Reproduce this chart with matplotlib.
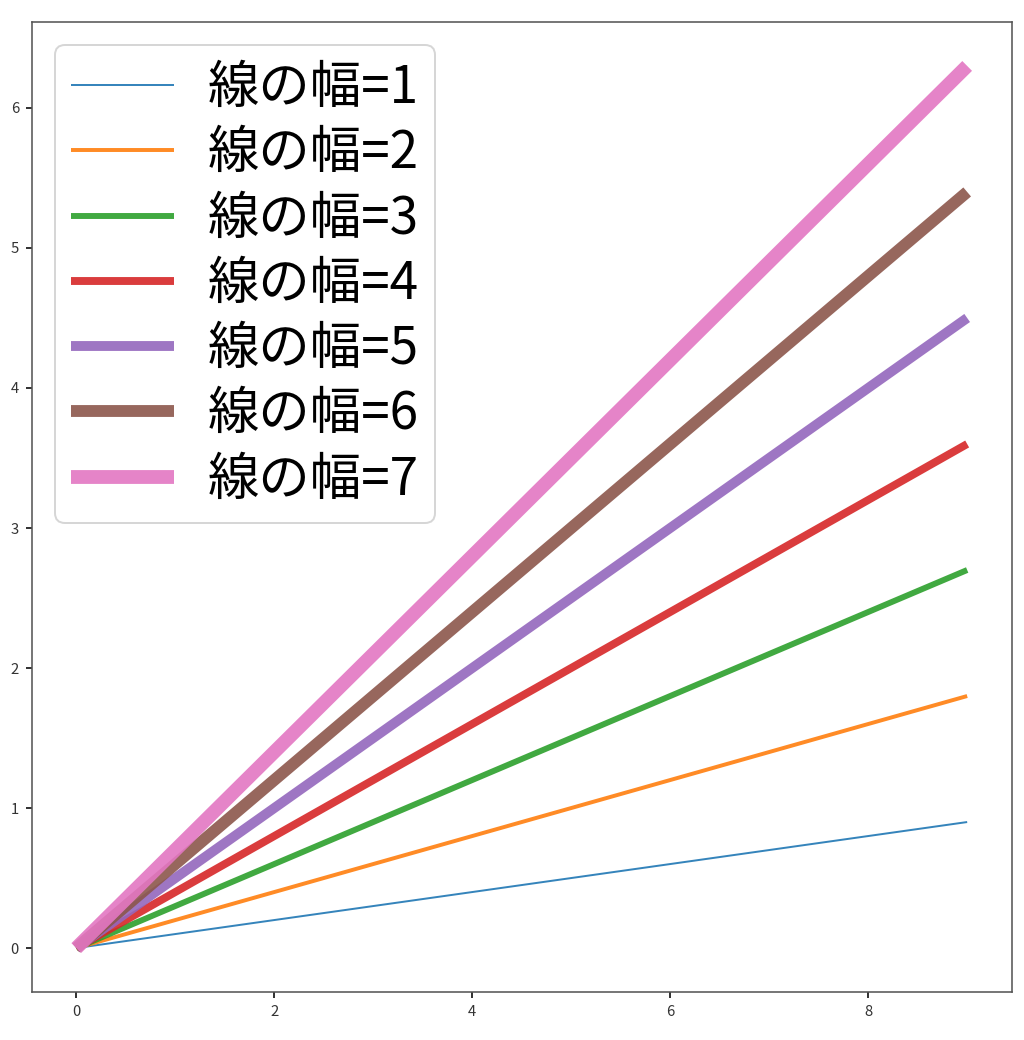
import numpy as np
import matplotlib
matplotlib.use("Agg")
import matplotlib.pyplot as plt

plt.rcParams['font.family'] = ['Noto Sans CJK JP', 'DejaVu Sans']

x = np.arange(10)
widths = [1, 2, 3, 4, 5, 6, 7]
slopes = [0.1, 0.2, 0.3, 0.4, 0.5, 0.6, 0.7]
labels = [f"線の幅={w}" for w in widths]

dpi = 142.2
fig = plt.figure(figsize=(1024 / dpi, 1040 / dpi), dpi=dpi)
ax = fig.add_axes([0.031, 0.046, 0.957, 0.933])
for w, s, lab in zip(widths, slopes, labels):
    ax.plot(x, x * s, linewidth=w, label=lab, solid_capstyle='butt', alpha=0.9)

ax.set_xticks([0, 2, 4, 6, 8])
ax.tick_params(labelsize=7.5, length=3, labelcolor='#333333')
for sp in ax.spines.values():
    sp.set_color('#555555')
leg = ax.legend(loc='upper left', fontsize=26, handlelength=2.0,
                labelspacing=0.23, borderpad=0.32, handletextpad=0.65,
                borderaxespad=0.45)
fig.savefig("out.png", dpi=dpi)
